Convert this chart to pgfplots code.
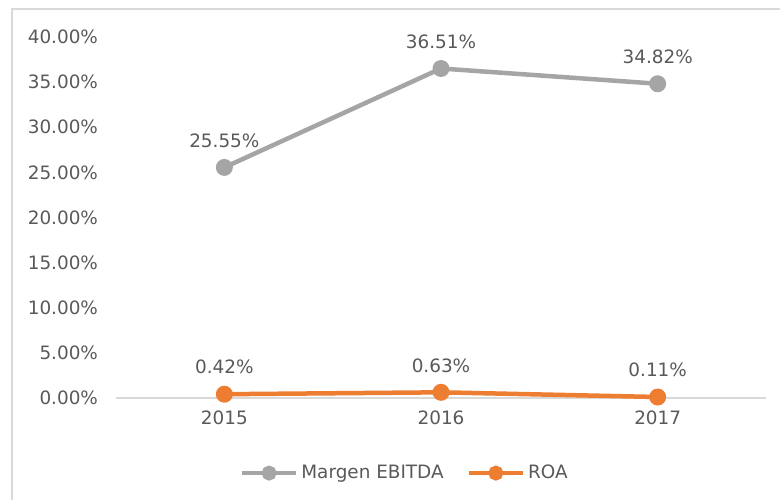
\documentclass[border=0pt]{standalone}
\usepackage{pgfplots}
\pgfplotsset{compat=1.18}
\usepackage{fontspec}
\setmainfont{DejaVu Sans}
\definecolor{exgray}{HTML}{A5A5A5}
\definecolor{exorange}{HTML}{ED7D31}
\definecolor{txt}{HTML}{595959}
\definecolor{frame}{HTML}{D9D9D9}
\definecolor{zeroline}{HTML}{D9D9D9}
\begin{document}
\begin{tikzpicture}
% chart area frame (pixel coords of a 780x500 image)
\begin{scope}[x=0.5bp,y=-0.5bp]
  \path[use as bounding box] (0,0) rectangle (780,500);
  \draw[frame, line width=1bp] (12,500) -- (12,9) -- (780,9);
\end{scope}
\begin{axis}[
    at={(58bp,-199bp)}, anchor=south west,
    scale only axis, width=325bp, height=180.5bp,
    clip=false,
    xmin=2014.5, xmax=2017.5, ymin=0, ymax=40,
    xtick={2015,2016,2017}, xticklabels={2015,2016,2017},
    ytick={0,5,...,40},
    yticklabels={0.00\%,5.00\%,10.00\%,15.00\%,20.00\%,25.00\%,30.00\%,35.00\%,40.00\%},
    major tick length=0pt,
    axis line style={draw=none},
    extra y ticks={0}, extra y tick labels={},
    extra y tick style={grid=major, major grid style={zeroline, line width=1bp}},
    font=\fontsize{9.2bp}{11bp}\selectfont,
    tick label style={txt, font=\fontsize{9.2bp}{11bp}\selectfont},
    yticklabel style={xshift=-5.5bp},
    xticklabel style={yshift=-3bp},
    nodes near coords,
    point meta=explicit symbolic,
    every node near coord/.style={txt, anchor=center, yshift=13.5bp, font=\fontsize{9.2bp}{11bp}\selectfont},
    legend columns=2,
    legend style={draw=none, fill=none, at={(0.445,-0.208)}, anchor=center,
        text=txt, font=\fontsize{9.2bp}{11bp}\selectfont,
        nodes={inner xsep=1.5bp},
        /tikz/every even column/.append style={column sep=10bp}},
    legend image code/.code={\draw[mark repeat=2,mark phase=2,mark size=2.6bp] plot coordinates {(0bp,0bp)(13.5bp,0bp)(27bp,0bp)};},
]
\addplot[exgray, line width=2.25bp, mark=*, mark size=3.1bp] coordinates {
    (2015,25.55)[25.55\%] (2016,36.51)[36.51\%] (2017,34.82)[34.82\%]
};
\addlegendentry{Margen EBITDA}
\addplot[exorange, line width=2.25bp, mark=*, mark size=3.1bp] coordinates {
    (2015,0.42)[0.42\%] (2016,0.63)[0.63\%] (2017,0.11)[0.11\%]
};
\addlegendentry{ROA}
\end{axis}
\end{tikzpicture}
\end{document}
